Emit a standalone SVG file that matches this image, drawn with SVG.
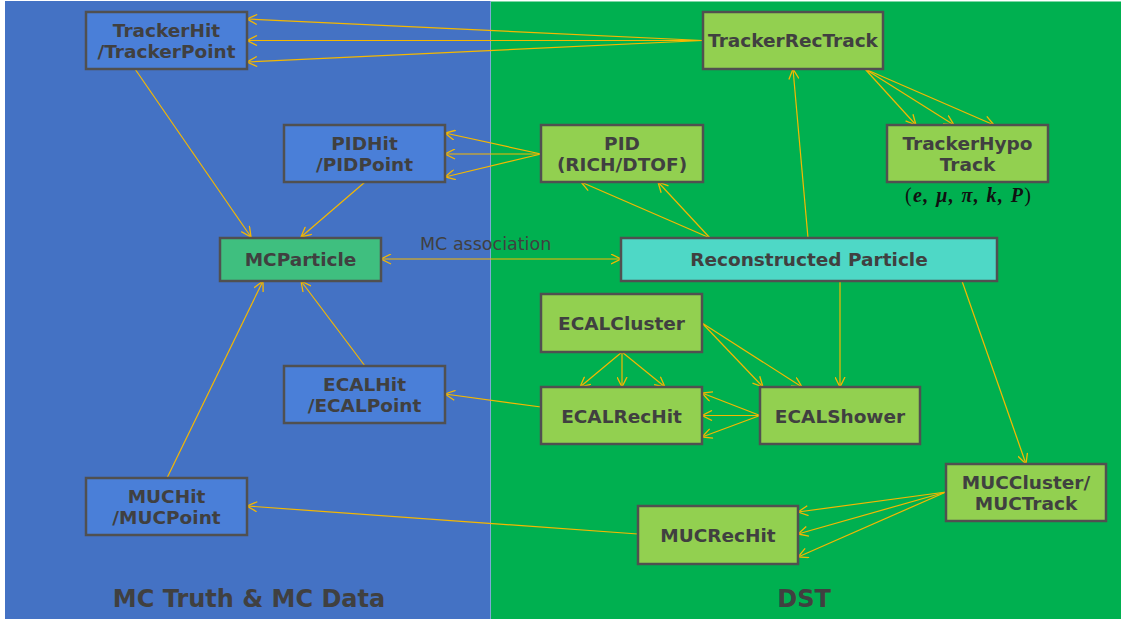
<svg xmlns="http://www.w3.org/2000/svg" width="1121" height="619" viewBox="0 0 1121 619">
<defs>
<marker id="ah" viewBox="0 0 11 11" refX="10.5" refY="5.5" markerUnits="userSpaceOnUse" markerWidth="11" markerHeight="11" orient="auto-start-reverse">
<path d="M0.5,0.5 L10.5,5.5 L0.5,10.5" fill="none" stroke="#F5B800" stroke-width="1.3"/>
</marker>
<style>
.bg-blue{fill:#4472C4}
.bg-green{fill:#00B050}
.box{stroke:#505050;stroke-width:2.5}
.hit{fill:#4A7FD8}
.rec{fill:#92D050}
.mc{fill:#3FBF7F}
.rp{fill:#4ED8C6}
.t{font-family:"DejaVu Sans","Liberation Sans",sans-serif;font-weight:bold;font-size:18.5px;fill:#404040;text-anchor:middle}
.lbl{font-family:"DejaVu Sans","Liberation Sans",sans-serif;font-size:17.5px;fill:#404040}
.big{font-family:"DejaVu Sans","Liberation Sans",sans-serif;font-weight:bold;font-size:24px;fill:#404040;text-anchor:middle}
.c line{stroke:#F5B800;stroke-width:1.2;fill:none;marker-end:url(#ah)}
.math{font-family:"Liberation Serif","DejaVu Serif",serif;font-weight:bold;font-style:italic;font-size:20px;fill:#111}
</style>
</defs>
<rect x="0" y="0" width="1121" height="619" fill="#ffffff"/>
<rect class="bg-blue" x="5" y="1" width="486" height="618"/>
<rect class="bg-green" x="491" y="1.5" width="630" height="618"/>
<line x1="490.5" y1="1" x2="490.5" y2="619" stroke="#7FA8D8" stroke-width="1"/>

<text class="big" x="249" y="607">MC Truth &amp; MC Data</text>
<text class="big" x="804" y="607">DST</text>

<g class="c" id="connectors">
<line x1="703" y1="40.5" x2="247" y2="19"/>
<line x1="703" y1="40.5" x2="247" y2="40.5"/>
<line x1="703" y1="40.5" x2="247" y2="62"/>
<line x1="135" y1="69" x2="251" y2="237"/>
<line x1="365" y1="182" x2="301" y2="237"/>
<line x1="541" y1="154" x2="445" y2="133"/>
<line x1="541" y1="154" x2="445" y2="154"/>
<line x1="541" y1="154" x2="445" y2="177"/>
<line x1="710" y1="238" x2="581" y2="182"/>
<line x1="710" y1="238" x2="658" y2="182"/>
<line x1="808" y1="238" x2="793" y2="69"/>
<line x1="865" y1="69" x2="916" y2="125"/>
<line x1="865" y1="69" x2="954" y2="125"/>
<line x1="865" y1="69" x2="994" y2="125"/>
<line x1="381" y1="259" x2="621" y2="259" style="marker-start:url(#ah)"/>
<line x1="840" y1="281" x2="840" y2="387"/>
<line x1="962" y1="281" x2="1026" y2="464"/>
<line x1="622" y1="352" x2="580" y2="387"/>
<line x1="622" y1="352" x2="622" y2="387"/>
<line x1="622" y1="352" x2="665" y2="387"/>
<line x1="702" y1="323" x2="763" y2="387"/>
<line x1="702" y1="323" x2="802" y2="387"/>
<line x1="760" y1="415.5" x2="702" y2="393"/>
<line x1="760" y1="415.5" x2="702" y2="415.5"/>
<line x1="760" y1="415.5" x2="702" y2="437"/>
<line x1="541" y1="407" x2="445" y2="394"/>
<line x1="365" y1="366" x2="301" y2="281"/>
<line x1="167" y1="478" x2="263" y2="281"/>
<line x1="946" y1="492" x2="798" y2="512"/>
<line x1="946" y1="492" x2="798" y2="534"/>
<line x1="946" y1="492" x2="798" y2="557"/>
<line x1="638" y1="534" x2="247" y2="506"/>
</g>

<text class="lbl" x="420" y="250">MC association</text>

<g id="TrackerHit"><rect class="box hit" x="86" y="12" width="161" height="57"/><text class="t" x="166.5" y="36.5">TrackerHit</text><text class="t" x="166.5" y="58">/TrackerPoint</text></g>
<g id="PIDHit"><rect class="box hit" x="284" y="125" width="161" height="57"/><text class="t" x="364.5" y="149.5">PIDHit</text><text class="t" x="364.5" y="171">/PIDPoint</text></g>
<g id="MCParticle"><rect class="box mc" x="220" y="238" width="161" height="43"/><text class="t" x="300.5" y="266">MCParticle</text></g>
<g id="ECALHit"><rect class="box hit" x="284" y="366" width="161" height="57"/><text class="t" x="364.5" y="390.5">ECALHit</text><text class="t" x="364.5" y="412">/ECALPoint</text></g>
<g id="MUCHit"><rect class="box hit" x="86" y="478" width="161" height="57"/><text class="t" x="166.5" y="502.5">MUCHit</text><text class="t" x="166.5" y="524">/MUCPoint</text></g>

<g id="TrackerRecTrack"><rect class="box rec" x="703" y="12" width="180" height="57"/><text class="t" x="793" y="47">TrackerRecTrack</text></g>
<g id="PID"><rect class="box rec" x="541" y="125" width="162" height="57"/><text class="t" x="622" y="149.5">PID</text><text class="t" x="622" y="171">(RICH/DTOF)</text></g>
<g id="TrackerHypoTrack"><rect class="box rec" x="887" y="125" width="161" height="57"/><text class="t" x="967.5" y="149.5">TrackerHypo</text><text class="t" x="967.5" y="171">Track</text>
<text class="math" x="968" y="202" text-anchor="middle" textLength="126" lengthAdjust="spacing"><tspan font-style="normal" font-weight="normal">(</tspan>e, μ, π, k, P<tspan font-style="normal" font-weight="normal">)</tspan></text></g>
<g id="ReconstructedParticle"><rect class="box rp" x="621" y="238" width="376" height="43"/><text class="t" x="809" y="266">Reconstructed Particle</text></g>
<g id="ECALCluster"><rect class="box rec" x="541" y="294" width="161" height="58"/><text class="t" x="621.5" y="330">ECALCluster</text></g>
<g id="ECALRecHit"><rect class="box rec" x="541" y="387" width="161" height="57"/><text class="t" x="621.5" y="422.5">ECALRecHit</text></g>
<g id="ECALShower"><rect class="box rec" x="760" y="387" width="160" height="57"/><text class="t" x="840" y="422.5">ECALShower</text></g>
<g id="MUCCluster"><rect class="box rec" x="946" y="464" width="160" height="57"/><text class="t" x="1026" y="488.5">MUCCluster/</text><text class="t" x="1026" y="510">MUCTrack</text></g>
<g id="MUCRecHit"><rect class="box rec" x="638" y="506" width="160" height="58"/><text class="t" x="718" y="541.5">MUCRecHit</text></g>
</svg>
